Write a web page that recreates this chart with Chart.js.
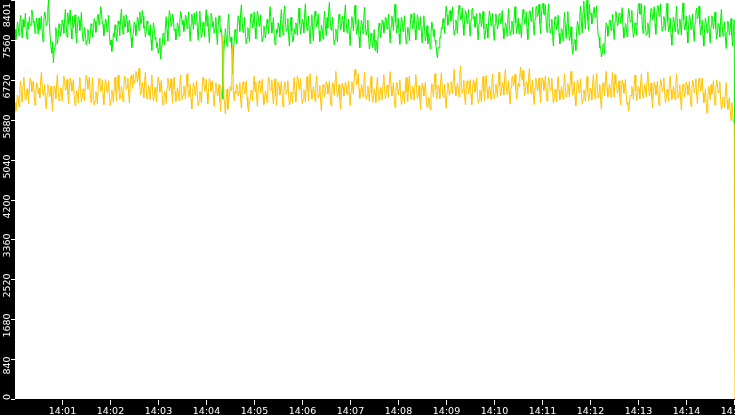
<!DOCTYPE html>
<html>
<head>
<meta charset="utf-8">
<script src="https://cdn.jsdelivr.net/npm/chart.js@4/dist/chart.umd.min.js"></script>
<style>
  html, body { margin: 0; padding: 0; background: #000; }
  #wrap { width: 735px; height: 415px; }
</style>
</head>
<body>
<div id="wrap"><canvas id="myChart"></canvas></div>
<script>
// one sample per second, 14:00:00 .. 14:15:00
const sampleSec = 1;
const xTickLabels = ['14:01','14:02','14:03','14:04','14:05','14:06','14:07','14:08','14:09','14:10','14:11','14:12','14:13','14:14','14:15'];
const yTickValues = [0, 840, 1680, 2520, 3360, 4200, 5040, 5880, 6720, 7560, 8401];

const greenValues = [
  7780,7560,7700,7940,7850,7650,7920,8080,7810,7600,7990,7830,7880,8120,7760,7580,7940,7790,8050,7870,7870,8190,8110,7920,7960,7700,7800,8020,7900,7680,
  8020,7780,7840,8060,7730,7520,7950,8150,8090,7860,7930,8210,8400,7900,7620,7400,7280,7520,7080,7350,7430,7820,7700,7480,7610,7900,7820,7640,7740,7980,
  7900,7700,8010,8200,7850,7620,8130,7890,7960,8190,7790,7580,8060,7820,7880,8090,7710,7500,7820,8050,7980,7760,7910,8140,7750,7540,7600,7820,7690,7460,
  7540,7780,7720,7480,7650,7900,7860,7620,7780,8010,7950,7720,7830,8060,8100,7880,7990,8260,8180,7940,7890,7650,7760,8000,7970,7730,7840,8080,7680,7450,
  7560,7320,7470,7700,7620,7880,7780,7540,7700,7960,7890,7650,8020,8210,7910,7680,8070,7850,7830,8090,7960,7720,7740,7980,7850,7600,7400,7620,7710,7940,
  7880,7650,7800,8040,7990,7760,8150,7900,7920,8180,8060,7810,7840,7620,7730,7960,7900,7680,7650,7880,7560,7340,7700,7920,7820,7580,7610,7400,7500,7280,
  7380,7600,7160,7400,7450,7700,7690,7460,7830,8050,7760,7540,7950,8180,8080,7850,7870,8100,8000,7760,7790,7560,7680,7920,7860,7640,7940,8160,8100,7880,
  7970,7740,7850,8080,8040,7800,7920,8150,7760,7540,7880,8100,8010,7780,8130,7890,7900,8160,7770,7550,7940,8170,7820,7600,7690,7930,7860,7630,7980,8200,
  7850,8080,7720,7500,7900,8120,8060,7830,7940,7700,7810,8040,7690,7460,7840,8070,7960,7720,7780,7540,6320,7300,7560,7800,7640,7420,7880,8100,7760,7520,
  7620,7400,6850,7300,7540,7780,7700,7480,7850,8070,7980,7740,8120,8300,7940,7720,7810,8040,7700,7480,7590,7820,7760,7530,7890,8110,8040,7810,7920,8150,
  7800,7580,7950,8170,8070,7850,7870,8090,7740,7520,7620,7850,7830,7600,7760,7990,7910,7690,8050,8260,7930,7710,7800,8030,7680,7460,7550,7780,7700,7920,
  7840,7620,7990,8200,7880,7660,8080,8280,7960,7740,7790,8010,7650,7430,7820,8040,7740,7520,7560,7800,7690,7920,7880,7660,8020,8230,7900,7680,7780,8000,
  7930,7710,8110,8320,7980,7760,7840,8060,7700,7480,7870,8090,7760,7540,7950,8170,8060,7840,7890,8110,7750,7530,7640,7870,7800,7580,7950,8170,7870,7650,
  8030,7810,8160,8350,7990,7770,7820,8040,7680,7460,7560,7790,7740,7520,7880,8100,7990,7770,7840,8060,7950,7730,8090,8300,7930,7710,7780,8000,7660,7440,
  7830,8050,7970,7750,8080,8290,7900,7680,7770,7990,7620,7400,7750,7970,7910,7690,8040,8250,7880,7660,7760,7980,7590,7370,7480,7700,7620,7400,7550,7780,
  7340,7560,7500,7280,7690,7910,7830,7610,7760,7980,7930,7710,7820,8040,8010,7790,7880,8100,7720,7500,7840,8060,7980,7760,8100,8310,7930,7710,7800,8020,
  7690,7470,7820,8040,7960,7740,7850,8070,7700,7480,7600,7830,7760,7540,7880,8100,8020,7800,7910,8130,7780,7560,7870,8090,7990,7770,7830,8050,7720,7500,
  7850,8070,7760,7540,7640,7860,7480,7700,7600,7380,7720,7940,7850,7630,7790,7560,7480,7300,7180,7400,7390,7610,7600,7820,7790,8010,7920,7700,8060,8270,
  8090,7870,7940,8160,8180,7960,8040,8260,7880,7660,7760,7980,7920,7700,8070,8290,8200,7980,8010,8230,7880,7660,7960,8180,8130,7910,7990,8210,7860,7640,
  7980,8200,8230,8010,8050,7830,7900,8120,7780,7560,7910,8130,8060,7840,7940,8160,7800,7580,7680,7900,7820,7600,7950,8170,8080,7860,7900,8120,7770,7550,
  7890,8110,8010,7790,7870,8090,8120,7900,7960,8180,7810,7590,7700,7920,7860,7640,8000,8220,7880,7660,7740,7960,7900,7680,8040,8260,7920,7700,7800,8020,
  7690,7910,7830,7610,7980,8200,8110,7890,7930,8150,7790,7570,7950,8170,8170,7950,8030,8250,7880,7660,8000,8220,8270,8050,8090,8310,7910,7690,8060,8280,
  8330,8110,8080,8300,7940,7720,8100,8320,7920,7700,7780,8000,7650,7430,7830,8050,8000,7780,7860,8080,7700,7480,7580,7800,7760,7540,7920,8140,7810,7590,
  7940,8160,7770,7550,7620,7840,7480,7260,7350,7570,7560,7340,7730,7950,7890,7670,8050,8270,7930,7710,8160,8380,8010,7790,8200,8400,7980,7760,8310,8100,
  8120,7900,7950,8170,8250,8030,8060,8280,7880,7660,7620,7400,7420,7200,7250,7470,7480,7260,7700,7920,7860,7640,7750,7970,7980,7760,7880,8100,7790,7570,
  7940,8160,8080,7860,7900,8120,8130,7910,8020,8240,7820,7600,7690,7910,7850,7630,8000,8220,8150,7930,7960,8180,7830,7610,7700,7920,7880,7660,8040,8260,
  8330,8110,8100,8320,7920,7700,8060,8280,7880,7660,7700,7920,7830,7610,8000,8220,8200,7980,8040,8260,7900,7680,8060,8280,8280,8060,8100,8320,7960,7740,
  7830,8050,7980,7760,8110,8330,7950,7730,7800,8020,7670,7450,7820,8040,7960,7740,8050,8270,7900,7680,7780,8000,7880,7660,8120,8340,7990,7770,7850,8070,
  7720,7500,7860,8080,8000,7780,7880,8100,7750,7530,7920,8140,8230,8010,8050,8270,7890,7670,7760,7980,7650,7430,7800,8020,7930,7710,7840,8060,7720,7500,
  7850,8070,8010,7790,7930,8150,7800,7580,7690,7910,7840,7620,7980,8200,7860,7640,7720,7940,7600,7380,7740,7960,7880,7660,7790,8010,7650,7430,7760,7980,
  3300
];

const yellowValues = [
  6240,6060,6180,6400,6350,6150,6520,6700,6440,6250,6600,6780,6480,6290,6320,6530,6410,6220,6560,6750,6680,6470,6500,6690,6380,6190,6460,6660,6620,6420,
  6540,6340,6700,6880,6600,6400,6430,6620,6300,6110,6420,6620,6560,6360,6380,6580,6250,6060,6390,6590,6520,6320,6640,6830,6480,6280,6350,6550,6470,6270,
  6600,6800,6700,6500,6530,6730,6410,6210,6560,6760,6680,6480,6520,6720,6380,6180,6290,6490,6430,6230,6570,6770,6460,6260,6330,6530,6480,6280,6620,6820,
  6730,6530,6580,6780,6440,6240,6560,6760,6390,6190,6270,6470,6420,6220,6550,6750,6680,6480,6520,6720,6400,6200,6530,6730,6660,6460,6500,6700,6380,6180,
  6300,6500,6440,6240,6580,6780,6470,6270,6620,6820,6510,6310,6380,6580,6460,6260,6600,6800,6720,6520,6560,6760,6430,6230,6610,6810,6740,6540,6840,6640,
  6700,6900,6880,6680,6760,6960,6600,6400,6470,6670,6540,6340,6680,6880,6520,6320,6400,6600,6500,6300,6620,6820,6480,6280,6360,6560,6450,6250,6580,6780,
  6660,6460,6510,6710,6390,6190,6280,6480,6420,6220,6560,6760,6690,6490,6540,6740,6430,6230,6580,6780,6470,6270,6350,6550,6480,6280,6620,6820,6500,6300,
  6390,6590,6520,6320,6650,6850,6560,6360,6420,6620,6310,6110,6460,6660,6600,6400,6500,6700,6380,6180,6270,6470,6440,6240,6570,6770,6690,6490,6530,6730,
  6420,6220,6550,6750,6680,6480,6500,6700,6360,6160,6460,6660,6580,6380,6420,6620,6260,6060,6400,6600,7660,6400,6200,6000,6330,6530,6100,6300,6380,6580,
  6500,6700,7430,6480,6280,6480,6430,6630,6580,6380,6460,6660,6320,6120,6480,6680,6620,6420,6500,6700,6360,6160,6050,6250,6300,6500,6480,6280,6600,6800,
  6470,6670,6360,6160,6500,6700,6650,6450,6530,6730,6400,6200,6290,6490,6440,6240,6580,6780,6690,6490,6520,6720,6410,6210,6540,6740,6380,6180,6470,6670,
  6600,6400,6490,6690,6350,6150,6480,6680,6620,6420,6500,6700,6390,6190,6260,6460,6430,6230,6570,6770,6460,6260,6600,6800,6720,6520,6550,6750,6420,6220,
  6310,6510,6460,6260,6590,6790,6480,6280,6650,6850,6520,6320,6380,6580,6470,6270,6610,6810,6540,6340,6400,6600,6270,6070,6420,6620,6560,6360,6480,6680,
  6620,6420,6500,6700,6370,6170,6460,6660,6590,6390,6700,6900,6560,6360,6420,6620,6300,6100,6450,6650,6580,6380,6470,6670,6610,6410,6500,6700,6380,6180,
  6480,6680,6620,6420,6740,6940,6820,6620,6650,6850,6530,6330,6420,6620,6560,6360,6680,6880,6510,6310,6390,6590,6460,6260,6590,6790,6450,6250,6330,6530,
  6440,6240,6570,6770,6480,6280,6360,6560,6500,6300,6630,6830,6520,6320,6410,6610,6550,6350,6690,6890,6580,6380,6460,6660,6340,6140,6470,6670,6600,6400,
  6520,6720,6400,6200,6280,6480,6430,6230,6570,6770,6460,6260,6600,6800,6510,6310,6380,6580,6490,6290,6630,6830,6530,6330,6400,6600,6300,6100,6450,6650,
  6580,6380,6470,6670,6340,6140,6150,6350,6290,6090,6440,6640,6560,6360,6650,6850,6520,6320,6410,6610,6530,6330,6670,6870,6560,6360,6430,6630,6320,6120,
  6460,6660,6590,6390,6480,6680,6620,6420,6740,6940,6580,6380,6450,6650,6560,6360,6820,7020,6640,6440,6510,6710,6390,6190,6500,6700,6620,6420,6530,6730,
  6400,6200,6520,6720,6660,6460,6560,6760,6430,6230,6300,6500,6460,6260,6590,6790,6480,6280,6610,6810,6530,6330,6390,6590,6500,6300,6640,6840,6520,6320,
  6430,6630,6550,6350,6680,6880,6590,6390,6470,6670,6600,6400,6740,6940,6620,6420,6500,6700,6410,6210,6560,6760,6800,6600,6640,6840,6520,6320,6450,6650,
  6580,6780,6990,6790,6720,6920,6590,6390,6480,6680,6630,6430,6760,6960,6620,6420,6510,6710,6400,6200,6550,6750,6680,6480,6560,6760,6440,6240,6570,6770,
  6700,6500,6600,6800,6470,6270,6580,6780,6690,6490,6550,6750,6430,6230,6320,6520,6460,6260,6590,6790,6500,6300,6380,6580,6510,6310,6640,6840,6550,6350,
  6440,6640,6560,6360,6700,6900,6600,6400,6480,6680,6370,6170,6520,6720,6650,6450,6540,6740,6420,6220,6310,6510,6470,6270,6590,6790,6480,6280,6350,6550,
  6500,6300,6630,6830,6520,6320,6650,6850,6540,6340,6420,6620,6300,6100,6460,6660,6590,6390,6700,6900,6560,6360,6430,6630,6550,6350,6680,6880,6560,6360,
  6830,6630,6640,6440,6500,6700,6390,6190,6520,6720,6640,6440,6530,6730,6400,6200,6260,6060,6200,6400,6380,6580,6510,6310,6620,6820,6490,6290,6380,6580,
  6520,6320,6650,6850,6540,6340,6420,6620,6560,6360,6690,6890,6580,6380,6450,6650,6330,6130,6470,6670,6600,6400,6490,6690,6380,6180,6530,6730,6670,6470,
  6560,6760,6440,6240,6320,6520,6470,6270,6600,6800,6510,6310,6390,6590,6500,6300,6640,6840,6540,6340,6420,6620,6290,6090,6430,6630,6560,6360,6470,6670,
  6600,6400,6480,6680,6360,6160,6510,6710,6650,6450,6540,6740,6420,6220,6550,6750,6680,6480,6560,6760,6440,6240,6330,6530,6220,6020,6380,6580,6500,6300,
  6620,6420,6500,6700,6390,6190,6520,6720,6640,6440,6480,6680,6300,6100,6150,6350,6330,6130,6460,6660,6300,6100,6150,6350,6060,5860,6240,6040,5850,5770,
  0
];

function toPoints(vals) {
  return vals.map((v, i) => ({ x: i * sampleSec, y: v }));
}

const axisFont = '"DejaVu Sans", sans-serif';

const frame = {
  id: 'frame',
  beforeDraw(chart) {
    const c = chart.ctx, a = chart.chartArea;
    c.save();
    c.fillStyle = '#000';
    c.fillRect(0, 0, chart.width, chart.height);
    c.fillStyle = '#fff';
    c.fillRect(a.left, a.top, a.right - a.left, a.bottom - a.top);
    c.restore();
  },
  afterDraw(chart) {
    const c = chart.ctx, a = chart.chartArea;
    const xs = chart.scales.x, ys = chart.scales.y;
    c.save();
    c.strokeStyle = '#fff';
    c.fillStyle = '#fff';
    c.lineWidth = 1;

    // x ticks + labels
    c.font = '9.5px ' + axisFont;
    c.textAlign = 'center';
    c.textBaseline = 'alphabetic';
    xTickLabels.forEach((lab, k) => {
      const px = Math.round(xs.getPixelForValue((k + 1) * 60)) - 0.5;
      c.beginPath();
      c.moveTo(px, a.bottom + 1);
      c.lineTo(px, a.bottom + 6);
      c.stroke();
      c.fillText(lab, px, a.bottom + 14.5);
    });

    // y ticks + rotated labels
    c.font = '9.5px ' + axisFont;
    yTickValues.forEach(v => {
      const py = Math.round(ys.getPixelForValue(v)) + 0.5;
      c.beginPath();
      c.moveTo(a.left - 4, py);
      c.lineTo(a.left, py);
      c.stroke();
      const lab = String(v);
      const hw = c.measureText(lab).width / 2;
      let cy = py + 6;
      cy = Math.max(cy, hw + 3);
      cy = Math.min(cy, a.bottom + 1 - hw);
      c.save();
      c.translate(a.left - 5.5, cy);
      c.rotate(-Math.PI / 2);
      c.fillText(lab, 0, 0);
      c.restore();
    });
    c.restore();
  }
};

const chart = new Chart(document.getElementById('myChart'), {
  type: 'line',
  data: {
    datasets: [
      {
        label: 'yellow',
        data: toPoints(yellowValues),
        borderColor: '#ffc400',
        borderWidth: 1,
        pointRadius: 0,
        tension: 0
      },
      {
        label: 'green',
        data: toPoints(greenValues),
        borderColor: '#00f000',
        borderWidth: 1,
        pointRadius: 0,
        tension: 0
      }
    ]
  },
  options: {
    responsive: true,
    maintainAspectRatio: false,
    animation: false,
    layout: { padding: { left: 15, bottom: 16, top: 0, right: 0 } },
    plugins: { legend: { display: false }, tooltip: { enabled: false } },
    scales: {
      x: { type: 'linear', min: 0, max: 900, display: false },
      y: { min: 0, max: 8401, display: false }
    }
  },
  plugins: [frame]
});
</script>
</body>
</html>
